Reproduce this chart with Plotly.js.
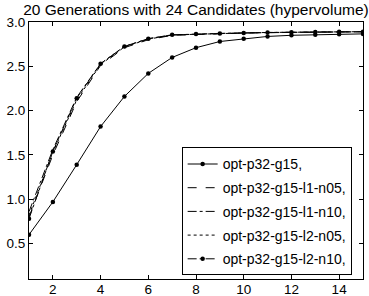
<!DOCTYPE html>
<html>
<head>
<meta charset="utf-8">
<script src="https://cdn.plot.ly/plotly-3.0.1.min.js"></script>
<style>html,body{margin:0;padding:0;background:#fff;}#chart{width:369px;height:296px;}</style>
</head>
<body>
<div id="chart"></div>
<script>
const generations = [1,2,3,4,5,6,7,8,9,10,11,12,13,14,15];
const seriesNames = ["opt-p32-g15,", "opt-p32-g15-l1-n05,", "opt-p32-g15-l1-n10,", "opt-p32-g15-l2-n05,", "opt-p32-g15-l2-n10,"];
const g15 =      [0.60,0.97,1.39,1.82,2.16,2.42,2.60,2.71,2.78,2.81,2.837,2.850,2.857,2.862,2.866];
const g15_l1n05 = [0.80,1.50,2.10,2.51,2.71,2.80,2.850,2.860,2.870,2.875,2.880,2.885,2.887,2.889,2.890];
const g15_l1n10 = [0.86,1.56,2.15,2.53,2.725,2.812,2.852,2.865,2.872,2.877,2.881,2.884,2.887,2.889,2.890];
const g15_l2n05 = [0.82,1.53,2.12,2.52,2.718,2.806,2.854,2.864,2.870,2.876,2.882,2.885,2.888,2.890,2.891];
const g15_l2n10 = [0.78,1.54,2.14,2.53,2.724,2.811,2.856,2.864,2.871,2.875,2.882,2.885,2.887,2.889,2.890];
const xTicks = [2,4,6,8,10,12,14];
const yTicks = [0.5,1.0,1.5,2.0,2.5,3.0];

const FONT = "Liberation Sans, Arial, sans-serif";
const allSeries = [g15, g15_l1n05, g15_l1n10, g15_l2n05, g15_l2n10];
const dashes = ["solid", "dash", "dashdot", "dot", "dashdot"];
const withMarkers = [true, false, false, false, true];

const traces = allSeries.map((ys, i) => ({
  x: generations, y: ys, name: seriesNames[i], legendgroup: "g" + i,
  type: "scatter", mode: withMarkers[i] ? "lines+markers" : "lines",
  line: {color: "#000", width: 1, dash: dashes[i]},
  marker: {color: "#000", size: 4.5}
}));

const axisCommon = {
  showline: true, linecolor: "#000", linewidth: 1, mirror: "ticks",
  ticks: "inside", ticklen: 4, tickcolor: "#000", tickwidth: 1,
  showgrid: false, zeroline: false,
  tickfont: {family: FONT, size: 13.5, color: "#000"}
};

const layout = {
  width: 369, height: 296,
  margin: {l: 29, r: 6, t: 22, b: 17, pad: 0},
  paper_bgcolor: "#fff", plot_bgcolor: "#fff",
  title: {text: "20 Generations with 24 Candidates (hypervolume)", font: {family: FONT, size: 15.5, color: "#000"},
          x: 0.5, xref: "paper", y: 1 - 10/296, yref: "container", yanchor: "middle"},
  xaxis: Object.assign({}, axisCommon, {range: [1, 15], tickvals: xTicks, ticklabelstandoff: -2}),
  yaxis: Object.assign({}, axisCommon, {range: [0.1, 3.0], tickvals: yTicks, tickformat: ".1f"}),
  showlegend: true,
  legend: {x: 0.966, y: 0.014, xanchor: "right", yanchor: "bottom", bgcolor: "#fff",
           bordercolor: "#000", borderwidth: 1, font: {family: FONT, size: 14, color: "#000"},
           traceorder: "grouped", tracegroupgap: 2.5, itemwidth: 30}
};

Plotly.newPlot("chart", traces, layout, {staticPlot: true, displayModeBar: false});
</script>
</body>
</html>
